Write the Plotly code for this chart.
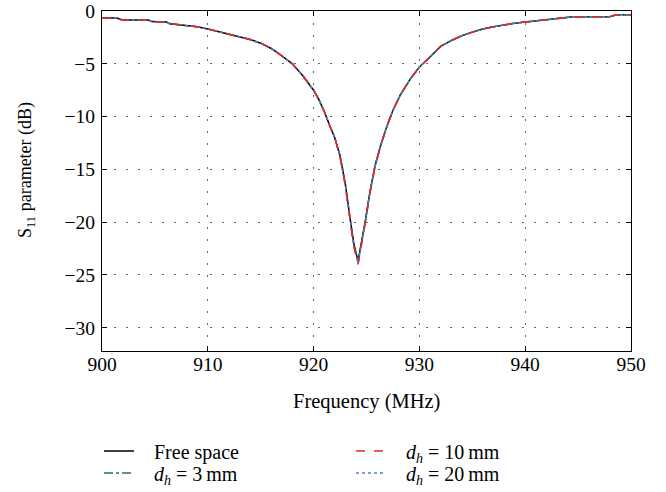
import plotly.graph_objects as go

freq = [900.0, 901.4, 901.9, 904.4, 904.7, 906.1, 906.4, 907.7, 909.0, 910.0,
        911.0, 912.0, 913.0, 914.0, 915.0, 916.0, 917.0, 918.0, 919.0, 920.0,
        920.5, 921.0, 921.5, 922.0, 922.5, 923.0, 923.5, 923.8, 924.2, 924.5,
        924.9, 925.3, 925.8, 926.3, 926.9, 927.5, 928.2, 929.1, 930.0, 931.0,
        932.0, 933.0, 934.0, 935.0, 936.0, 937.0, 938.0, 939.0, 940.0, 941.0,
        942.0, 943.0, 944.5, 948.0, 948.6, 950.0]

free_space = [-0.66, -0.66, -0.85, -0.85, -1.0, -1.05, -1.2, -1.33, -1.5, -1.7,
              -1.95, -2.2, -2.4, -2.7, -3.05, -3.55, -4.25, -5.0, -6.15, -7.5,
              -8.4, -9.5, -10.8, -12.0, -13.7, -16.4, -20.0, -22.0, -23.7, -22.1,
              -19.8, -17.3, -14.7, -12.85, -11.0, -9.4, -7.95, -6.5, -5.3, -4.35,
              -3.35, -2.8, -2.35, -2.0, -1.7, -1.5, -1.3, -1.15, -1.05, -0.95,
              -0.85, -0.75, -0.55, -0.55, -0.35, -0.35]

dh_3mm = [-0.66, -0.66, -0.85, -0.85, -1.0, -1.05, -1.2, -1.33, -1.5, -1.7,
          -1.95, -2.2, -2.4, -2.7, -3.05, -3.55, -4.25, -5.0, -6.15, -7.5,
          -8.4, -9.5, -10.8, -12.0, -13.8, -16.5, -20.1, -22.2, -23.9, -22.3,
          -19.9, -17.3, -14.7, -12.85, -11.0, -9.4, -7.95, -6.5, -5.3, -4.35,
          -3.35, -2.8, -2.35, -2.0, -1.7, -1.5, -1.3, -1.15, -1.05, -0.95,
          -0.85, -0.75, -0.55, -0.55, -0.35, -0.35]

dh_10mm = [-0.66, -0.66, -0.85, -0.85, -1.0, -1.05, -1.2, -1.33, -1.5, -1.7,
           -1.95, -2.2, -2.4, -2.7, -3.05, -3.55, -4.25, -5.0, -6.15, -7.5,
           -8.4, -9.5, -10.8, -12.0, -13.8, -16.5, -20.2, -22.3, -24.0, -22.4,
           -20.0, -17.4, -14.8, -12.9, -11.0, -9.4, -7.95, -6.5, -5.3, -4.35,
           -3.35, -2.8, -2.35, -2.0, -1.7, -1.5, -1.3, -1.15, -1.05, -0.95,
           -0.85, -0.75, -0.55, -0.55, -0.35, -0.35]

dh_20mm = [-0.66, -0.66, -0.85, -0.85, -1.0, -1.05, -1.2, -1.33, -1.5, -1.7,
           -1.95, -2.2, -2.4, -2.7, -3.05, -3.55, -4.25, -5.0, -6.15, -7.5,
           -8.4, -9.5, -10.8, -12.0, -13.75, -16.45, -20.1, -22.2, -23.8, -22.2,
           -19.9, -17.35, -14.75, -12.85, -11.0, -9.4, -7.95, -6.5, -5.3, -4.35,
           -3.35, -2.8, -2.35, -2.0, -1.7, -1.5, -1.3, -1.15, -1.05, -0.95,
           -0.85, -0.75, -0.55, -0.55, -0.35, -0.35]

PAD = "\u00a0\u00a0\u00a0"
names = [PAD + "Free space",
         PAD + "<i>d</i><sub><i>h</i></sub> = 3\u2009mm",
         PAD + "<i>d</i><sub><i>h</i></sub> = 10\u2009mm",
         PAD + "<i>d</i><sub><i>h</i></sub> = 20\u2009mm"]

x_title = "Frequency (MHz)"
y_title = "S<sub>11</sub> parameter (dB)"
x_ticks = [900, 910, 920, 930, 940, 950]
y_ticks = [0, -5, -10, -15, -20, -25, -30]

FONT = "Liberation Serif, Times New Roman, serif"
W, H = 666, 492
L, R, T, B = 102, 35, 11, 141
PW, PH = W - L - R, H - T - B

fig = go.Figure()
fig.add_trace(go.Scatter(x=freq, y=free_space, mode="lines", name=names[0], legend="legend",
                         line=dict(color="black", width=1.5, dash="solid")))
fig.add_trace(go.Scatter(x=freq, y=dh_3mm, mode="lines", name=names[1], legend="legend2",
                         line=dict(color="#1e7a3c", width=1.5, dash="dashdot")))
fig.add_trace(go.Scatter(x=freq, y=dh_20mm, mode="lines", name=names[3], legend="legend4",
                         line=dict(color="#5a78d0", width=1.5, dash="dot")))
fig.add_trace(go.Scatter(x=freq, y=dh_10mm, mode="lines", name=names[2], legend="legend3",
                         line=dict(color="#e8262a", width=1.5, dash="dash")))

axis_common = dict(
    showline=True, linecolor="black", linewidth=1.3, mirror="ticks",
    ticks="inside", ticklen=5, tickcolor="black", tickwidth=1.3,
    showgrid=True, gridcolor="#666666", gridwidth=1.2, griddash="1.5px,10.5px",
    zeroline=False, automargin=False,
    tickfont=dict(family=FONT, size=19.5, color="black"),
)

fig.update_xaxes(range=[900, 950], tickvals=x_ticks, ticklabelstandoff=-5, **axis_common)
fig.update_yaxes(range=[-32.2, 0], tickvals=y_ticks, ticklabelstandoff=2, **axis_common)

fig.add_annotation(text=x_title, xref="paper", yref="paper", x=0.5, y=(T + PH - 402) / PH,
                   xanchor="center", yanchor="middle", showarrow=False,
                   font=dict(family=FONT, size=20.5, color="black"))
fig.add_annotation(text=y_title, xref="paper", yref="paper", x=(26 - L) / PW, y=(T + PH - 170) / PH,
                   xanchor="center", yanchor="middle", showarrow=False, textangle=-90,
                   font=dict(family=FONT, size=18, color="black"))


def leg(xpx, ypx):
    return dict(xref="container", yref="container", x=xpx / W, y=1 - ypx / H,
                xanchor="left", yanchor="middle", bgcolor="rgba(0,0,0,0)",
                font=dict(family=FONT, size=20, color="black"))


fig.update_layout(
    width=W, height=H, showlegend=True,
    margin=dict(l=L, r=R, t=T, b=B, autoexpand=False),
    plot_bgcolor="white", paper_bgcolor="white",
    font=dict(family=FONT, size=20, color="black"),
    legend=leg(99, 451),
    legend2=leg(99, 473),
    legend3=leg(351, 451),
    legend4=leg(351, 473),
)

fig.write_html("out.html")
